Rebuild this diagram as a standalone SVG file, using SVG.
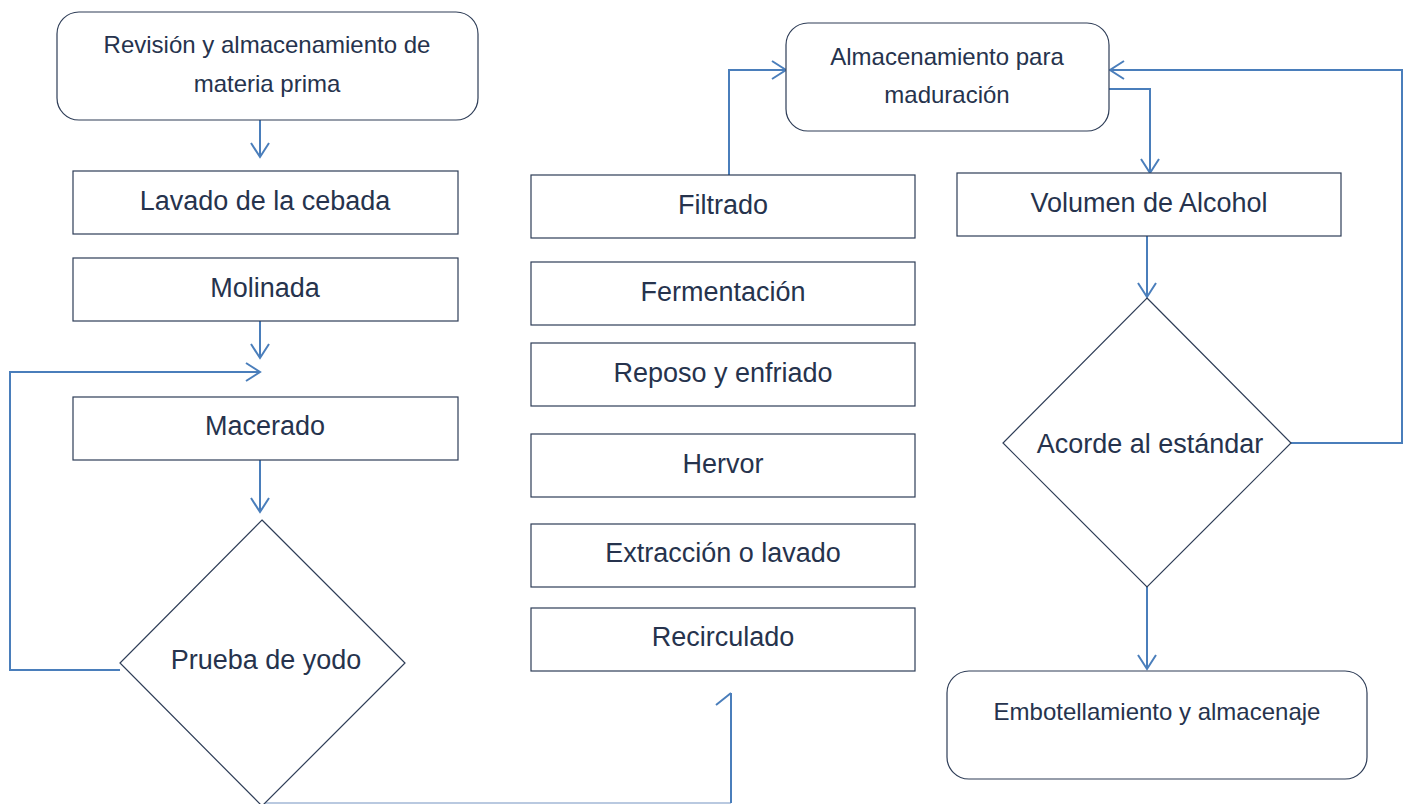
<svg xmlns="http://www.w3.org/2000/svg" width="1410" height="804" viewBox="0 0 1410 804">
<style>
.box{fill:#fff;stroke:#2e3d57;stroke-width:1.2}
.t{font-family:"Liberation Sans",Arial,sans-serif;font-size:27px;fill:#26334d;text-anchor:middle}
.t2{font-family:"Liberation Sans",Arial,sans-serif;font-size:24px;fill:#26334d;text-anchor:middle}
.c{fill:none;stroke:#4a7ebb;stroke-width:2}
</style>
<defs>
<marker id="ah" markerUnits="userSpaceOnUse" markerWidth="20" markerHeight="24" refX="15" refY="10" orient="auto">
<path d="M1,1 L15,10 L1,19" fill="none" stroke="#4a7ebb" stroke-width="2"/>
</marker>
</defs>
<rect width="1410" height="804" fill="#fff"/>
<g id="connectors">
<path class="c" d="M260,120 V157" marker-end="url(#ah)"/>
<path class="c" d="M260,321 V358" marker-end="url(#ah)"/>
<path class="c" d="M120,670 H10 V372 H260" marker-end="url(#ah)"/>
<path class="c" d="M260,460 V512" marker-end="url(#ah)"/>
<path d="M262,803 H731" fill="none" stroke="#b9c9e0" stroke-width="2"/>
<path class="c" d="M731,803 V693 M731,693 L716,705"/>
<path class="c" d="M729,175 V70 H786" marker-end="url(#ah)"/>
<path class="c" d="M1109,89 H1150 V173" marker-end="url(#ah)"/>
<path class="c" d="M1147,236 V297" marker-end="url(#ah)"/>
<path class="c" d="M1291,443 H1402 V70 H1110" marker-end="url(#ah)"/>
<path class="c" d="M1147,587 V669" marker-end="url(#ah)"/>
</g>
<g id="n1"><rect class="box" x="57" y="12" width="421" height="108" rx="22"/><text class="t2" x="267" y="53">Revisión y almacenamiento de</text><text class="t2" x="267" y="92">materia prima</text></g>
<g id="n2"><rect class="box" x="73" y="171" width="385" height="63"/><text class="t" x="265" y="210">Lavado de la cebada</text></g>
<g id="n3"><rect class="box" x="73" y="258" width="385" height="63"/><text class="t" x="265" y="297">Molinada</text></g>
<g id="n4"><rect class="box" x="73" y="397" width="385" height="63"/><text class="t" x="265" y="435">Macerado</text></g>
<g id="n5"><path class="box" d="M262,520 L405,663 L262,806 L120,663 Z"/><text class="t" x="266" y="669">Prueba de yodo</text></g>
<g id="n6"><rect class="box" x="531" y="175" width="384" height="63"/><text class="t" x="723" y="214">Filtrado</text></g>
<g id="n7"><rect class="box" x="531" y="262" width="384" height="63"/><text class="t" x="723" y="301">Fermentación</text></g>
<g id="n8"><rect class="box" x="531" y="343" width="384" height="63"/><text class="t" x="723" y="382">Reposo y enfriado</text></g>
<g id="n9"><rect class="box" x="531" y="434" width="384" height="63"/><text class="t" x="723" y="473">Hervor</text></g>
<g id="n10"><rect class="box" x="531" y="524" width="384" height="63"/><text class="t" x="723" y="562">Extracción o lavado</text></g>
<g id="n11"><rect class="box" x="531" y="608" width="384" height="63"/><text class="t" x="723" y="646">Recirculado</text></g>
<g id="n12"><rect class="box" x="786" y="23" width="323" height="108" rx="22"/><text class="t2" x="947" y="65">Almacenamiento para</text><text class="t2" x="947" y="103">maduración</text></g>
<g id="n13"><rect class="box" x="957" y="173" width="384" height="63"/><text class="t" x="1149" y="212">Volumen de Alcohol</text></g>
<g id="n14"><path class="box" d="M1147,298 L1291,443 L1147,587 L1003,443 Z"/><text class="t" x="1150" y="453">Acorde al estándar</text></g>
<g id="n15"><rect class="box" x="947" y="671" width="420" height="108" rx="22"/><text class="t2" x="1157" y="720">Embotellamiento y almacenaje</text></g>
</svg>
